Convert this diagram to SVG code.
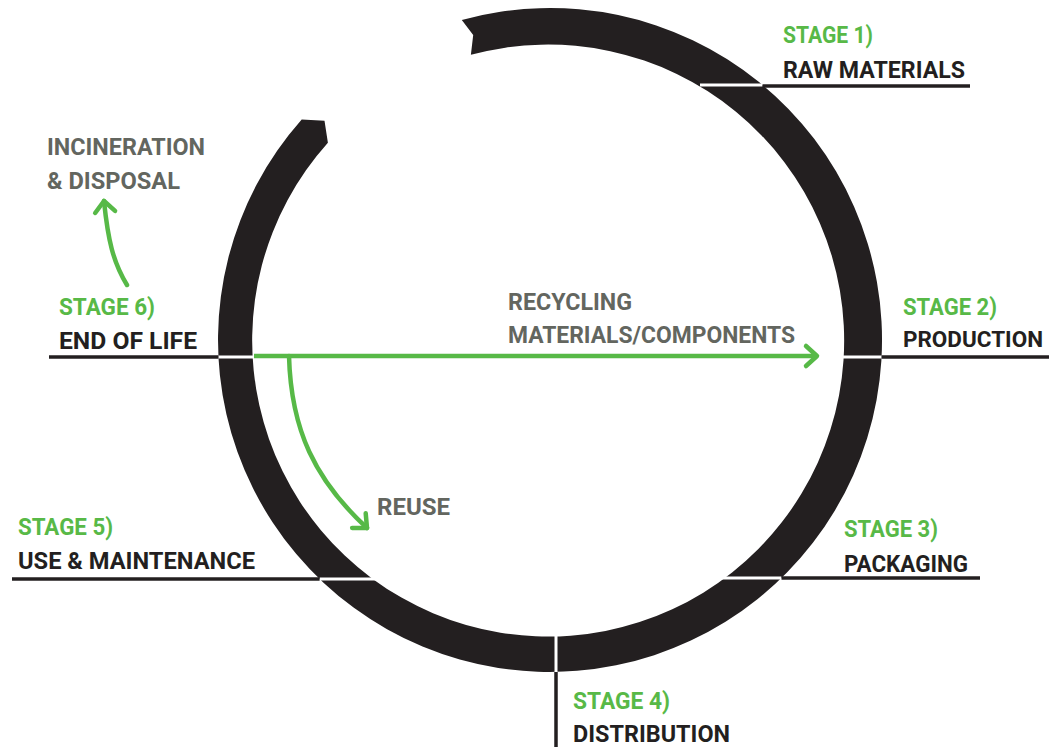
<svg xmlns="http://www.w3.org/2000/svg" width="1049" height="747" viewBox="0 0 1049 747">
  <style>
    .ring { fill: #231f20; }
    .sep { stroke: #ffffff; stroke-width: 3; }
    .lead { stroke: #231f20; stroke-width: 3.5; }
    .flow { stroke: #57b947; stroke-width: 4.5; fill: none; stroke-linecap: round; }
    text { font-family: Roboto, "DejaVu Sans", "Liberation Sans", sans-serif; font-weight: 700; font-size: 24px; }
    .stage { fill: #58b947; }
    .title { fill: #231f20; }
    .note { fill: #63665f; }
  </style>
  <defs>
    <marker id="chevron" markerUnits="userSpaceOnUse" viewBox="-16 -16 20 32" refX="0" refY="0" markerWidth="20" markerHeight="32" orient="auto" overflow="visible">
      <path d="M-11,-10 L0,0 L-11,10" fill="none" stroke="#57b947" stroke-width="4.5" stroke-linecap="round" stroke-linejoin="round"/>
    </marker>
  </defs>

  <rect width="1049" height="747" fill="#ffffff"/>

  <!-- life-cycle ring: notched tail at the top, pointed head at upper left -->
  <g id="ring">
    <path class="ring" d="M461.8,19.9 A332,332 0 1 1 301.7,119.6 L324.5,120.7 L327.9,142.8 A296,296 0 1 0 470.9,54.8 L473.2,35.0 Z"/>
    <!-- white cuts dividing the ring into stages -->
    <line class="sep" x1="700" y1="85" x2="762.6" y2="85"/>
    <line class="sep" x1="842" y1="357" x2="881.6" y2="357"/>
    <line class="sep" x1="722" y1="578" x2="781.5" y2="578"/>
    <line class="sep" x1="556" y1="630" x2="556" y2="672"/>
    <line class="sep" x1="319.6" y1="579" x2="378" y2="579"/>
    <line class="sep" x1="218.4" y1="357" x2="258" y2="357"/>
  </g>

  <!-- stage labels with leader lines -->
  <g id="stage1">
    <line class="lead" x1="762.6" y1="86" x2="970" y2="86"/>
    <text class="stage" x="783" y="43" textLength="90" lengthAdjust="spacingAndGlyphs">STAGE 1)</text>
    <text class="title" x="783" y="78" textLength="182" lengthAdjust="spacingAndGlyphs">RAW MATERIALS</text>
  </g>
  <g id="stage2">
    <line class="lead" x1="881.6" y1="357" x2="1049" y2="357"/>
    <text class="stage" x="903" y="315" textLength="94" lengthAdjust="spacingAndGlyphs">STAGE 2)</text>
    <text class="title" x="903" y="347" style="font-size:22px" textLength="140" lengthAdjust="spacingAndGlyphs">PRODUCTION</text>
  </g>
  <g id="stage3">
    <line class="lead" x1="781.5" y1="578" x2="980" y2="578"/>
    <text class="stage" x="844" y="537" textLength="94" lengthAdjust="spacingAndGlyphs">STAGE 3)</text>
    <text class="title" x="844" y="572" textLength="124" lengthAdjust="spacingAndGlyphs">PACKAGING</text>
  </g>
  <g id="stage4">
    <line class="lead" x1="556" y1="672" x2="556" y2="747"/>
    <text class="stage" x="573" y="709" textLength="97" lengthAdjust="spacingAndGlyphs">STAGE 4)</text>
    <text class="title" x="573" y="742" textLength="157" lengthAdjust="spacingAndGlyphs">DISTRIBUTION</text>
  </g>
  <g id="stage5">
    <line class="lead" x1="12" y1="579" x2="319.6" y2="579"/>
    <text class="stage" x="18" y="535" textLength="95" lengthAdjust="spacingAndGlyphs">STAGE 5)</text>
    <text class="title" x="18" y="569" textLength="237" lengthAdjust="spacingAndGlyphs">USE &amp; MAINTENANCE</text>
  </g>
  <g id="stage6">
    <line class="lead" x1="49" y1="357" x2="218.4" y2="357"/>
    <text class="stage" x="59" y="315" textLength="96" lengthAdjust="spacingAndGlyphs">STAGE 6)</text>
    <text class="title" x="59" y="349" textLength="138" lengthAdjust="spacingAndGlyphs">END OF LIFE</text>
  </g>

  <!-- end-of-life outcomes -->
  <g id="incineration">
    <text class="note" x="47" y="155" textLength="158" lengthAdjust="spacingAndGlyphs">INCINERATION</text>
    <text class="note" x="47" y="189" textLength="133" lengthAdjust="spacingAndGlyphs">&amp; DISPOSAL</text>
  </g>
  <g id="recycling">
    <text class="note" x="508" y="310" textLength="124" lengthAdjust="spacingAndGlyphs">RECYCLING</text>
    <text class="note" x="508" y="343" textLength="287" lengthAdjust="spacingAndGlyphs">MATERIALS/COMPONENTS</text>
  </g>
  <g id="reuse">
    <text class="note" x="377" y="515" textLength="73" lengthAdjust="spacingAndGlyphs">REUSE</text>
  </g>

  <!-- flow arrows -->
  <g id="connectors">
    <path class="flow" style="stroke-linecap:butt" d="M254,356 L817,356" marker-end="url(#chevron)"/>
    <path class="flow" d="M289,356 C291,430 315,480 367,528" marker-end="url(#chevron)"/>
    <path class="flow" d="M127,285 C113,262 108,240 104,201" marker-end="url(#chevron)"/>
  </g>
</svg>
